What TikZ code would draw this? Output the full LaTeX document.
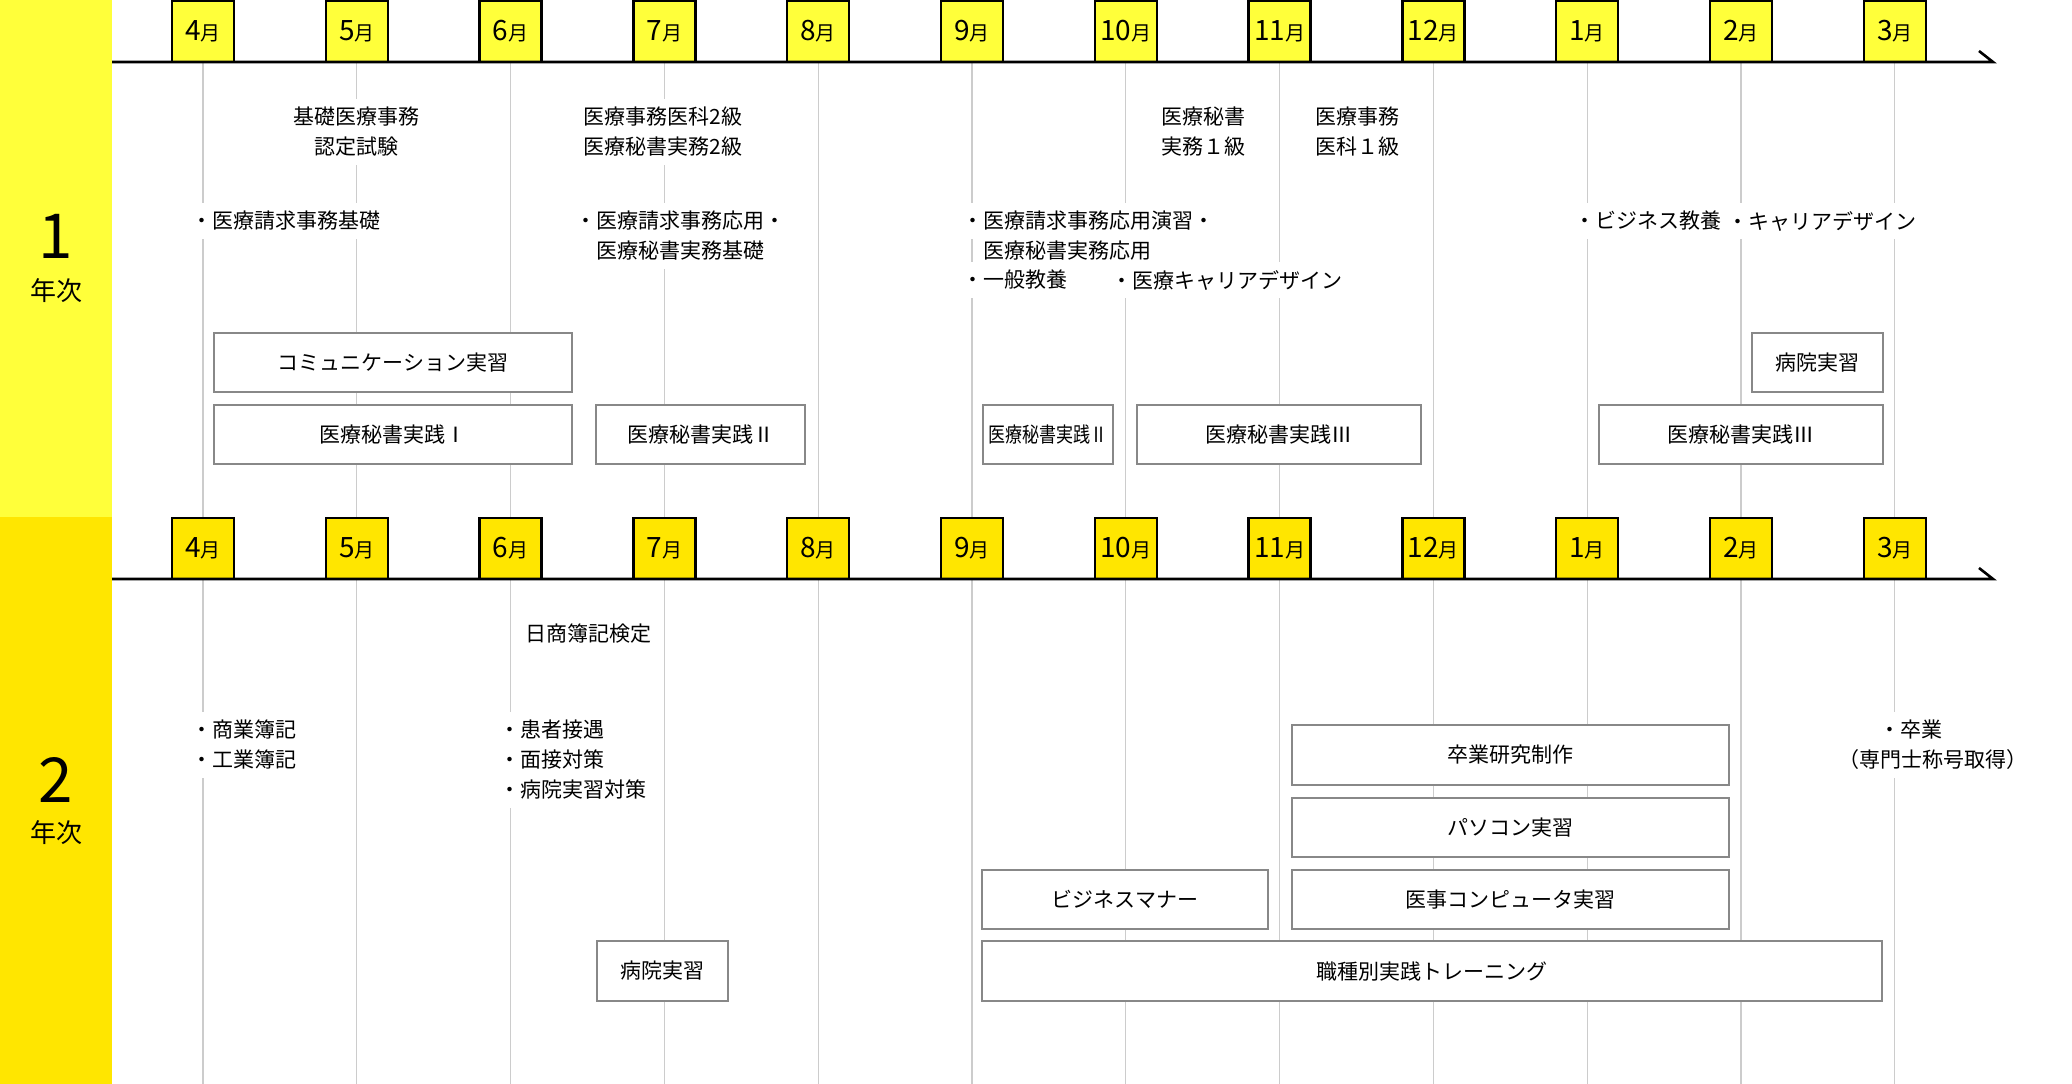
\documentclass[tikz,border=0pt]{standalone}
\usepackage{fontspec}
\setmainfont{Noto Sans CJK JP}
\usepackage{graphicx}
\definecolor{yA}{HTML}{FFFF3A}
\definecolor{yB}{HTML}{FFE600}
\definecolor{guideC}{HTML}{CCCCCC}
\definecolor{boxC}{HTML}{888888}
\newcommand{\mlab}[1]{{\fontsize{28}{28}\selectfont #1}{\fontsize{20}{20}\selectfont 月}}
\tikzset{
  mon/.style={draw=black, line width=2.4pt, minimum width=62pt, minimum height=61pt, inner sep=0pt, anchor=center},
  guide/.style={draw=guideC, line width=1.3pt},
  axisline/.style={draw=black, line width=2.6pt},
  lbl/.style={fill=white, inner xsep=4pt, inner ysep=8pt, font=\fontsize{21}{30}\selectfont},
  crs/.style={draw=boxC, line width=2.3pt, fill=white, inner sep=0pt, font=\fontsize{21}{30}\selectfont},
  yrnum/.style={inner sep=0pt, font=\fontsize{62}{62}\selectfont},
  yrtxt/.style={inner sep=0pt, font=\fontsize{26}{26}\selectfont},
}
\begin{document}
\begin{tikzpicture}[x=1pt, y=-1pt]
\useasboundingbox (0,0) rectangle (2072,1084);
% bands
\fill[yA] (0,0) rectangle (112,517);
\fill[yB] (0,517) rectangle (112,1084);
\node[yrnum] (y1n) at (56,236) {1};
\node[yrtxt] (y1t) at (56,291) {年次};
\node[yrnum] (y2n) at (56,780) {2};
\node[yrtxt] (y2t) at (56,833) {年次};
% months
\foreach \n [count=\i from 0] in {4,5,6,7,8,9,10,11,12,1,2,3} {
  \node[mon, fill=yA] (ma\i) at ({203+153.8*\i}, 31.5) {\mlab{\n}};
  \node[mon, fill=yB] (mb\i) at ({203+153.8*\i}, 548.5) {\mlab{\n}};
  \draw[guide] (ma\i.south) -- ++(0,454);
  \draw[guide] (mb\i.south) -- ++(0,504);
}
% axes
\coordinate (a1s) at (112,62);
\coordinate (a1e) at (1993,62);
\coordinate (a1t) at (1979,51);
\coordinate (a2s) at (112,579);
\coordinate (a2e) at (1993,579);
\coordinate (a2t) at (1979,568);
\draw[axisline] (a1s) -- (a1e) -- (a1t);
\draw[axisline] (a2s) -- (a2e) -- (a2t);
% year 1 texts
\node[lbl, align=center] (t1) at (356,132) {基礎医療事務\\認定試験};
\node[lbl, align=center] (t2) at (663,132) {医療事務医科2級\\医療秘書実務2級};
\node[lbl, align=center] (t3) at (1203,132) {医療秘書\\実務１級};
\node[lbl, align=center] (t4) at (1357,132) {医療事務\\医科１級};
\node[lbl, anchor=west] (t5) at (187,221) {・医療請求事務基礎};
\node[lbl, anchor=west] (t6a) at (571,221) {・医療請求事務応用・};
\node[lbl, anchor=west] (t6b) at (592,251) {医療秘書実務基礎};
\node[lbl, anchor=west] (t7a) at (958,221) {・医療請求事務応用演習・};
\node[lbl, anchor=west] (t7b) at (979,251) {医療秘書実務応用};
\node[lbl, anchor=west] (t8) at (958,280) {・一般教養};
\node[lbl, anchor=west] (t9) at (1107,280) {・医療キャリアデザイン};
\node[lbl, anchor=west] (t10) at (1570,221) {・ビジネス教養};
\node[lbl, anchor=west] (t11) at (1723,221) {・キャリアデザイン};
% year 1 boxes
\node[crs, minimum width=358pt, minimum height=59pt] (b1) at (393,362.5) {コミュニケーション実習};
\node[crs, minimum width=358pt, minimum height=59pt] (b2) at (393,434.5) {医療秘書実践Ⅰ};
\node[crs, minimum width=209pt, minimum height=59pt] (b3) at (700.5,434.5) {医療秘書実践Ⅱ};
\node[crs, minimum width=130pt, minimum height=59pt] (b4) at (1048,434.5) {\scalebox{0.81}[1]{医療秘書実践Ⅱ}};
\node[crs, minimum width=284pt, minimum height=59pt] (b5) at (1279,434.5) {医療秘書実践Ⅲ};
\node[crs, minimum width=131pt, minimum height=59pt] (b6) at (1817.5,362.5) {病院実習};
\node[crs, minimum width=284pt, minimum height=59pt] (b7) at (1741,434.5) {医療秘書実践Ⅲ};
% year 2 texts
\node[lbl] (u1) at (588,634) {日商簿記検定};
\node[lbl, anchor=west, align=left] (u2) at (187,745) {・商業簿記\\・工業簿記};
\node[lbl, anchor=west, align=left] (u3) at (495,760) {・患者接遇\\・面接対策\\・病院実習対策};
\node[lbl, anchor=west] (u4a) at (1875,730) {・卒業};
\node[lbl] (u4b) at (1933,760) {（専門士称号取得）};
% year 2 boxes
\node[crs, minimum width=437pt, minimum height=60pt] (c1) at (1510.5,755) {卒業研究制作};
\node[crs, minimum width=437pt, minimum height=59pt] (c2) at (1510.5,827.5) {パソコン実習};
\node[crs, minimum width=286pt, minimum height=59pt] (c3) at (1125,899.5) {ビジネスマナー};
\node[crs, minimum width=437pt, minimum height=59pt] (c4) at (1510.5,899.5) {医事コンピュータ実習};
\node[crs, minimum width=900pt, minimum height=60pt] (c5) at (1432,971) {職種別実践トレーニング};
\node[crs, minimum width=131pt, minimum height=60pt] (c6) at (662.5,971) {病院実習};
\end{tikzpicture}
\end{document}
